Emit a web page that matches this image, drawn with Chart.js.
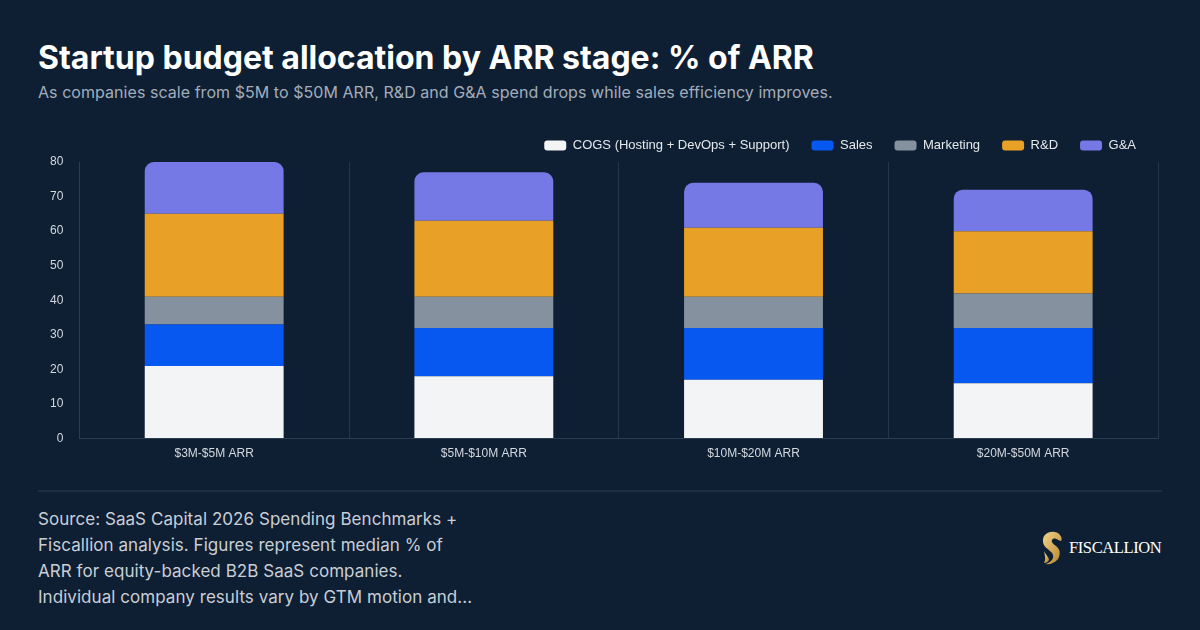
<!DOCTYPE html>
<html>
<head>
<meta charset="utf-8">
<script src="https://cdn.jsdelivr.net/npm/chart.js@4"></script>
<style>
  html, body { margin: 0; padding: 0; }
  body { width: 1200px; height: 630px; background: #0e1f33; position: relative; overflow: hidden; font-family: Inter, "Noto Sans", sans-serif; }
  h1 { position: absolute; left: 38px; top: 38px; margin: 0; font-size: 32px; font-weight: 700; color: #ffffff; }
  .sub { position: absolute; left: 38px; top: 82px; font-size: 16px; letter-spacing: 0.05px; color: #a3adbb; }
  .chart-box { position: absolute; left: 34px; top: 117px; width: 1126px; height: 352px; }
  .rule { position: absolute; left: 38px; top: 490px; width: 1124px; height: 2px; background: #1c2e42; }
  .note { position: absolute; left: 38px; top: 506px; font-size: 17px; line-height: 26px; letter-spacing: 0.05px; color: #c9ced6; white-space: nowrap; }
  .logo { position: absolute; left: 1041px; top: 531px; display: flex; align-items: center; }
  .logo span { font-family: "Liberation Serif", "DejaVu Serif", serif; font-size: 16.5px; color: #ffffff; margin-left: 6px; letter-spacing: -0.4px; }
</style>
</head>
<body>
<h1>Startup budget allocation by ARR stage: % of ARR</h1>
<div class="sub">As companies scale from $5M to $50M ARR, R&amp;D and G&amp;A spend drops while sales efficiency improves.</div>
<div class="chart-box"><canvas id="barChart"></canvas></div>
<div class="rule"></div>
<div class="note">Source: SaaS Capital 2026 Spending Benchmarks +<br>Fiscallion analysis. Figures represent median % of<br>ARR for equity-backed B2B SaaS companies.<br>Individual company results vary by GTM motion and...</div>
<div class="logo">
  <svg width="22" height="34" viewBox="0 0 22 34">
    <defs>
      <linearGradient id="gold" x1="0" y1="0" x2="1" y2="1">
        <stop offset="0" stop-color="#f2d488"/>
        <stop offset="1" stop-color="#b5842e"/>
      </linearGradient>
    </defs>
    <path d="M5 3 C9 0 16 0 19 4 C21 6 21 9 20 10 L17 9 C15 7 12 7 11 9 C10 11 12 13 15 15 C19 18 20 23 17 28 C14 32 8 34 5 33 C10 31 13 28 12 24 C11 20 5 18 3 14 C1 10 2 5 5 3 Z" fill="url(#gold)"/>
    <path d="M3 20 C5 24 8 26 8 29 C7 31 5 32 3 32 C5 29 4 25 3 20 Z" fill="url(#gold)"/>
  </svg>
  <span>FISCALLION</span>
</div>
<script>
const categories = ['$3M-$5M ARR', '$5M-$10M ARR', '$10M-$20M ARR', '$20M-$50M ARR'];
const cogs = [21, 18, 17, 16];
const sales = [12, 14, 15, 16];
const marketing = [8, 9, 9, 10];
const rnd = [24, 22, 20, 18];
const gna = [15, 14, 13, 12];
const yTicks = [0, 10, 20, 30, 40, 50, 60, 70, 80];

const ctx = document.getElementById('barChart').getContext('2d');

// --- un dataset por capa de la barra apilada ---
function capa(label, data, color, radius) {
    return {
        label: label,
        data: data,
        backgroundColor: color,
        borderWidth: 0,
        borderRadius: radius || 0,
        borderSkipped: false,
        barPercentage: 0.515,
        categoryPercentage: 1
    };
}

new Chart(ctx, {
    type: 'bar',
    data: {
        labels: categories,
        datasets: [
            capa('COGS (Hosting + DevOps + Support)', cogs, '#f2f4f6'),
            capa('Sales', sales, '#0658f0'),
            capa('Marketing', marketing, '#86919f'),
            capa('R&D', rnd, '#e9a027'),
            capa('G&A', gna, '#7479e6', { topLeft: 9, topRight: 9, bottomLeft: 0, bottomRight: 0 })
        ]
    },
    options: {
        responsive: true,
        maintainAspectRatio: false,
        animation: false,
        layout: { padding: { right: 2 } },
        scales: {
            x: {
                stacked: true,
                grid: { color: '#25364a', drawTicks: false },
                border: { color: '#2c3d51' },
                ticks: { color: '#d3d8df', font: { family: 'Liberation Sans', size: 12 }, padding: 8 }
            },
            y: {
                stacked: true,
                min: 0,
                max: 80,
                afterBuildTicks: (axis) => { axis.ticks = yTicks.map(v => ({ value: v })); },
                grid: { drawOnChartArea: false, drawTicks: false },
                border: { color: '#2c3d51' },
                ticks: { color: '#d3d8df', font: { family: 'Liberation Sans', size: 12 }, padding: 16 }
            }
        },
        plugins: {
            legend: {
                position: 'top',
                align: 'end',
                labels: {
                    color: '#e4e8ed',
                    font: { family: 'Liberation Sans', size: 13 },
                    boxWidth: 22,
                    boxHeight: 10,
                    useBorderRadius: true,
                    borderRadius: 3,
                    padding: 22
                }
            },
            tooltip: { enabled: false }
        }
    }
});
</script>
</body>
</html>
